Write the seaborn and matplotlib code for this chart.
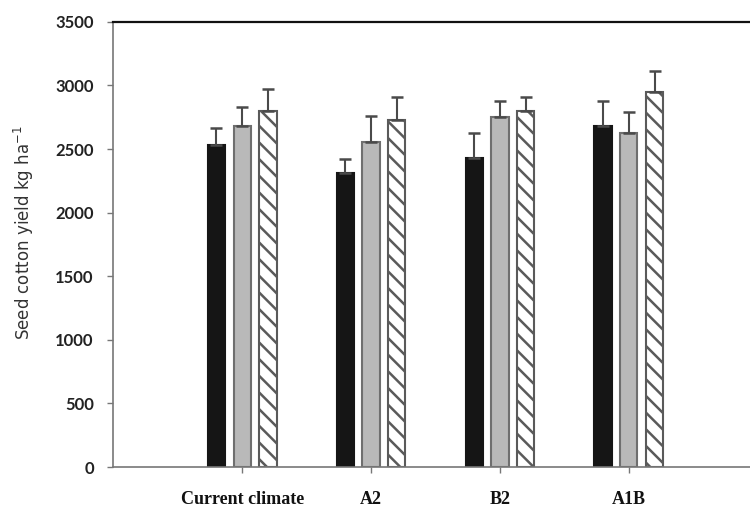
import matplotlib
matplotlib.use("Agg")
import matplotlib.pyplot as plt
import seaborn as sns
import pandas as pd
import numpy as np

categories = ["Current climate", "A2", "B2", "A1B"]
series = ["S1", "S2", "S3"]
s1_vals = [2533, 2315, 2433, 2682]
s1_err = [136, 105, 197, 197]
s2_vals = [2682, 2559, 2750, 2630]
s2_err = [147, 204, 129, 160]
s3_vals = [2802, 2729, 2802, 2952]
s3_err = [171, 184, 111, 165]

vals = [s1_vals, s2_vals, s3_vals]
errs = [s1_err, s2_err, s3_err]
rows = []
for si, s in enumerate(series):
    for ci, c in enumerate(categories):
        rows.append({"cat": c, "series": s, "val": vals[si][ci], "err": errs[si][ci]})
df = pd.DataFrame(rows)

sns.set_style("white")
plt.rcParams['font.family'] = ['Liberation Serif', 'DejaVu Sans']
plt.rcParams['hatch.color'] = "#505050"
plt.rcParams['hatch.linewidth'] = 1.8

fig = plt.figure(figsize=(7.5, 5.09), dpi=100)
ax = fig.add_axes([0.151, 0.0825, 0.849, 0.8745])

face = ["#151515", "#b9b9b9", "white"]
edge = ["#151515", "#6f6f6f", "#5a5a5a"]
sns.barplot(data=df, x="cat", y="val", hue="series", order=categories,
            hue_order=series, palette=face, width=0.6, gap=0.33,
            errorbar=None, legend=False, ax=ax)

n = len(categories)
for si in range(len(series)):
    for ci in range(n):
        p = ax.patches[si * n + ci]
        p.set_edgecolor(edge[si])
        p.set_linewidth(1.5)
        if si == 2:
            p.set_hatch("\\\\")
        cx = p.get_x() + p.get_width() / 2
        h = p.get_height()
        ax.errorbar([cx], [h], yerr=[[0], [errs[si][ci]]], fmt="none",
                    ecolor="#4a4a4a", elinewidth=1.5, capsize=4.5, capthick=1.8)

ax.set_xlim(-1, 3.94)
ax.set_ylim(0, 3500)
ax.set_yticks(np.arange(0, 3501, 500))
ax.set_xlabel("")
ax.set_ylabel("Seed cotton yield kg ha$^{-1}$", family="DejaVu Sans",
              fontsize=12, color="#333333")
ax.yaxis.set_label_coords(-0.122, 0.526)
ax.tick_params(axis="y", which="both", left=True, length=4, width=1,
               color="#777777", labelsize=12, labelcolor="#222222", pad=10)
ax.tick_params(axis="x", which="both", bottom=True, length=4, width=1,
               color="#777777", labelsize=13, labelcolor="#111111", pad=13)
for lab in ax.get_yticklabels():
    lab.set_family(["Lato", "DejaVu Sans"])
    lab.set_fontweight("bold")
for lab in ax.get_xticklabels():
    lab.set_fontweight("bold")

for side in ["left", "bottom"]:
    ax.spines[side].set_color("#777777")
    ax.spines[side].set_linewidth(1.2)
ax.spines["top"].set_color("#111111")
ax.spines["top"].set_linewidth(1.6)
ax.spines["right"].set_visible(False)

fig.savefig("out.png", dpi=100)
